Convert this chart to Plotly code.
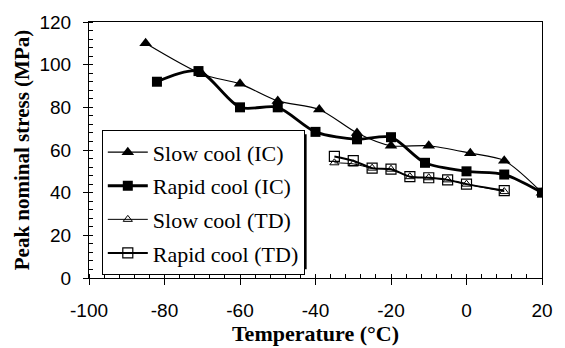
import plotly.graph_objects as go

# Data
slow_ic_temp = [-85, -70, -60, -50, -39, -29, -20, -10, 1, 10, 20]
slow_ic_stress = [110, 95.5, 91, 83, 79, 68, 62, 62, 58.5, 55, 40]

rapid_ic_temp = [-82, -71, -60, -50, -40, -29, -20, -11, 0, 10, 20]
rapid_ic_stress = [92, 97, 80, 80, 68.5, 65, 66, 54, 50, 48.5, 40]

td_temp = [-35, -30, -25, -20, -15, -10, -5, 0, 10]
slow_td_stress = [54, 53.5, 51.5, 51, 47.5, 47, 46, 44, 40.5]
rapid_td_stress = [57, 55, 51.5, 51, 47.5, 47, 46, 44, 41]

series_names = ["Slow cool (IC)", "Rapid cool (IC)", "Slow cool (TD)", "Rapid cool (TD)"]

x_ticks = [-100, -80, -60, -40, -20, 0, 20]
y_ticks = [0, 20, 40, 60, 80, 100, 120]

W, H = 565, 348
L, R, T, B = 89, 16, 17, 64

fig = go.Figure()

fig.add_trace(go.Scatter(
    x=slow_ic_temp, y=slow_ic_stress, name=series_names[0], legendgroup="a",
    mode="lines+markers", line=dict(color="black", width=1.2, shape="spline", smoothing=0.8),
    marker=dict(symbol="triangle-up", size=11, color="black")))
fig.add_trace(go.Scatter(
    x=rapid_ic_temp, y=rapid_ic_stress, name=series_names[1], legendgroup="b",
    mode="lines+markers", line=dict(color="black", width=2.8, shape="spline", smoothing=0.8),
    marker=dict(symbol="square", size=10, color="black")))
fig.add_trace(go.Scatter(
    x=td_temp, y=slow_td_stress, name=series_names[2], legendgroup="c",
    mode="lines+markers", line=dict(color="black", width=1, shape="spline", smoothing=0.8),
    marker=dict(symbol="triangle-up-open", size=8, color="black", line=dict(width=1))))
fig.add_trace(go.Scatter(
    x=td_temp, y=rapid_td_stress, name=series_names[3], legendgroup="d",
    mode="lines+markers", line=dict(color="black", width=2, shape="spline", smoothing=0.8),
    marker=dict(symbol="square-open", size=10, color="black", line=dict(width=1.2))))

pw = W - L - R
ph = H - T - B

def px_x(p):
    return (p - L) / pw

def px_y(p):
    return (H - B - p) / ph

# legend shadow
fig.add_shape(type="rect", xref="paper", yref="paper",
              x0=px_x(106), x1=px_x(310), y0=px_y(275), y1=px_y(134),
              fillcolor="black", line=dict(width=0), layer="above")

tick_font = dict(family="Liberation Sans, Arial", size=19, color="black")

fig.update_layout(
    width=W, height=H,
    margin=dict(l=L, r=R, t=T, b=B),
    paper_bgcolor="white", plot_bgcolor="white",
    showlegend=True,
    legend=dict(
        x=px_x(102), y=px_y(130), xanchor="left", yanchor="top",
        bgcolor="white", bordercolor="black", borderwidth=1,
        font=dict(family="Liberation Serif, Times New Roman", size=22, color="black"),
        traceorder="grouped", tracegroupgap=2, itemwidth=40,
    ),
    xaxis=dict(
        range=[-100, 20], tickvals=x_ticks, ticktext=[str(v) for v in x_ticks],
        showgrid=False, zeroline=False, showline=True, linecolor="black", linewidth=1,
        mirror=True, ticks="outside", ticklen=6, tickcolor="black",
        minor=dict(dtick=4, ticks="inside", ticklen=4, tickcolor="black", showgrid=False),
        tickfont=tick_font, ticklabelstandoff=9,
        title=dict(text="<b>Temperature (°C)</b>", standoff=0,
                   font=dict(family="Liberation Serif, Times New Roman", size=22, color="black")),
    ),
    yaxis=dict(
        range=[0, 120], tickvals=y_ticks, ticktext=[str(v) for v in y_ticks],
        showgrid=False, zeroline=False, showline=True, linecolor="black", linewidth=1,
        mirror=True, ticks="outside", ticklen=5, tickcolor="black",
        minor=dict(dtick=4, ticks="inside", ticklen=4, tickcolor="black", showgrid=False),
        tickfont=tick_font, ticklabelstandoff=8,
        title=dict(text="<b>Peak nominal stress (MPa)</b>", standoff=4,
                   font=dict(family="Liberation Serif, Times New Roman", size=21, color="black")),
    ),
)

fig.write_html("out.html")
